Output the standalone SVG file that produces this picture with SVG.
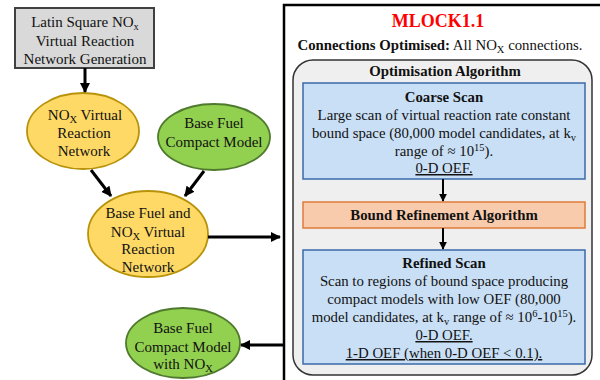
<svg xmlns="http://www.w3.org/2000/svg" width="600" height="380" viewBox="0 0 600 380">
<defs>
<marker id="ah" viewBox="0 0 10 10" refX="9" refY="5" markerWidth="3.4" markerHeight="3.4" orient="auto" markerUnits="strokeWidth">
<path d="M0,0 L10,5 L0,10 z" fill="#000"/>
</marker>
<marker id="ahs" viewBox="0 0 10 10" refX="9" refY="5" markerWidth="4" markerHeight="4" orient="auto" markerUnits="strokeWidth">
<path d="M0,0 L10,5 L0,10 z" fill="#000"/>
</marker>
</defs>
<style>
text{fill:#111;text-anchor:middle}
.t{font-size:15px}
.s{font-size:14.8px}
.b{font-weight:bold}
.sub{font-size:10.5px}
.yel{fill:#ffd966;stroke:#b8930a;stroke-width:1.8}
.grn{fill:#92d050;stroke:#4f7a2e;stroke-width:1.8}
.blue{fill:#c9dff5;stroke:#3a6aa8;stroke-width:1.5}
.conn{stroke:#000;stroke-width:3;fill:none}
.conns{stroke:#000;stroke-width:2;fill:none}
</style>
<rect width="600" height="380" fill="#fff"/>
<g font-family="Liberation Serif, Times New Roman, serif">
<g id="panel">
<rect x="284" y="5" width="330" height="390" fill="#fff" stroke="#000" stroke-width="2.5"/>
<text x="438" y="27" style="font-size:18px;font-weight:bold;fill:#f00">MLOCK1.1</text>
<text x="440" y="50" class="s"><tspan class="b">Connections Optimised:</tspan> All NO<tspan class="sub" dy="3">X</tspan><tspan dy="-3"> connections.</tspan></text>
</g>

<g id="algorithm">
<rect x="293" y="60" width="299" height="315" rx="20" fill="#efefef" stroke="#333" stroke-width="1.5"/>
<text x="445" y="76" class="s b">Optimisation Algorithm</text>
</g>

<g id="coarse">
<rect x="303" y="83" width="282" height="96" class="blue"/>
<text x="444" y="102" class="s b">Coarse Scan</text>
<text x="444" y="120" class="s">Large scan of virtual reaction rate constant</text>
<text x="444" y="138" class="s">bound space (80,000 model candidates, at k<tspan class="sub" dy="3">v</tspan></text>
<text x="444" y="156" class="s">range of ≈ 10<tspan class="sub" dy="-5">15</tspan><tspan dy="5">).</tspan></text>
<text x="444" y="173" class="s" text-decoration="underline">0-D OEF.</text>
</g>

<g id="bound">
<rect x="303" y="202" width="282" height="26" fill="#f8cbad" stroke="#e07b39" stroke-width="1.5"/>
<text x="444" y="220" class="s b">Bound Refinement Algorithm</text>
</g>

<g id="refined">
<rect x="303" y="250" width="282" height="114" class="blue"/>
<text x="444" y="268" class="s b">Refined Scan</text>
<text x="444" y="286" class="s">Scan to regions of bound space producing</text>
<text x="444" y="304" class="s">compact models with low OEF (80,000</text>
<text x="444" y="322" class="s">model candidates, at k<tspan class="sub" dy="3">v</tspan><tspan dy="-3"> range of ≈ 10</tspan><tspan class="sub" dy="-5">6</tspan><tspan dy="5">-10</tspan><tspan class="sub" dy="-5">15</tspan><tspan dy="5">).</tspan></text>
<text x="444" y="340" class="s" text-decoration="underline">0-D OEF.</text>
<text x="444" y="358" class="s" text-decoration="underline">1-D OEF (when 0-D OEF &lt; 0.1).</text>
</g>

<g id="latin">
<rect x="15" y="8" width="139" height="60" fill="#d9d9d9" stroke="#404040" stroke-width="2"/>
<text x="85" y="27" class="t">Latin Square NO<tspan class="sub" dy="3">x</tspan></text>
<text x="85" y="46" class="t">Virtual Reaction</text>
<text x="85" y="64" class="t">Network Generation</text>
</g>

<g id="nox">
<ellipse cx="83" cy="131" rx="56" ry="38" class="yel"/>
<text x="85" y="120" class="t">NO<tspan class="sub" dy="3">X</tspan><tspan dy="-3"> Virtual</tspan></text>
<text x="84" y="138" class="t">Reaction</text>
<text x="84" y="156" class="t">Network</text>
</g>

<g id="basefuel">
<ellipse cx="214" cy="137" rx="56" ry="33" class="grn"/>
<text x="214" y="128" class="t">Base Fuel</text>
<text x="214" y="147" class="t">Compact Model</text>
</g>

<g id="combined">
<ellipse cx="148" cy="234" rx="60" ry="43" class="yel"/>
<text x="148" y="218" class="t">Base Fuel and</text>
<text x="148" y="237" class="t">NO<tspan class="sub" dy="3">X</tspan><tspan dy="-3"> Virtual</tspan></text>
<text x="148" y="254" class="t">Reaction</text>
<text x="148" y="272" class="t">Network</text>
</g>

<g id="final">
<ellipse cx="183" cy="343" rx="57" ry="35" class="grn"/>
<text x="183" y="333" class="t">Base Fuel</text>
<text x="183" y="352" class="t">Compact Model</text>
<text x="183" y="369" class="t">with NO<tspan class="sub" dy="3">X</tspan></text>
</g>
</g>
<g id="connectors">
<line x1="85" y1="68" x2="85" y2="92" class="conn" marker-end="url(#ah)"/>
<line x1="91" y1="170" x2="111" y2="196" class="conn" marker-end="url(#ah)"/>
<line x1="204" y1="171" x2="185" y2="196" class="conn" marker-end="url(#ah)"/>
<line x1="208" y1="237" x2="280" y2="237" class="conn" marker-end="url(#ah)"/>
<line x1="284" y1="345" x2="241" y2="345" class="conn" marker-end="url(#ah)"/>
<line x1="443" y1="179" x2="443" y2="201" class="conns" marker-end="url(#ahs)"/>
<line x1="443" y1="228" x2="443" y2="249" class="conns" marker-end="url(#ahs)"/>
</g>
</svg>
